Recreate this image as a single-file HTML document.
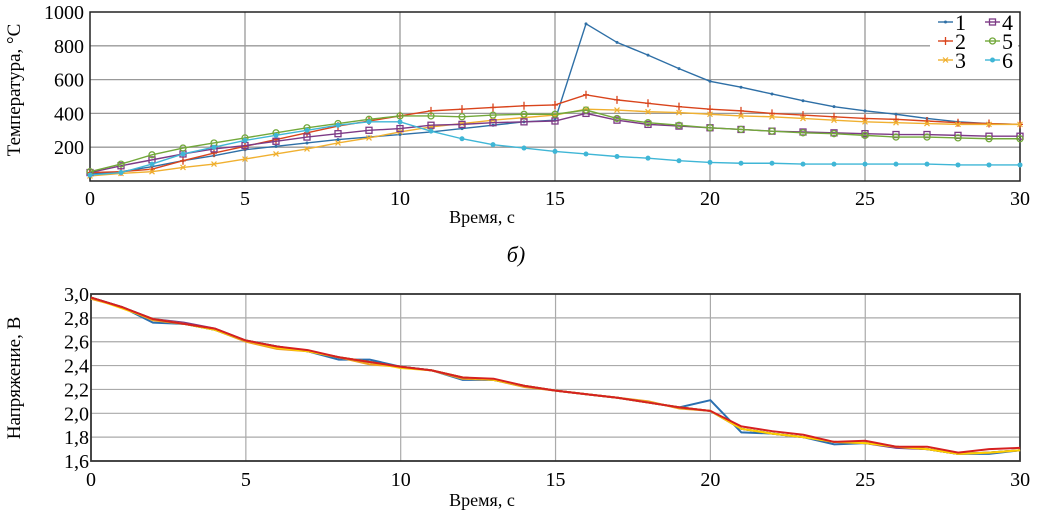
<!DOCTYPE html>
<html><head><meta charset="utf-8"><style>
html,body{margin:0;padding:0;background:#fff;}
svg{display:block;font-family:"Liberation Serif",serif;}
</style></head><body>
<svg id="s" width="1037" height="519" xmlns="http://www.w3.org/2000/svg"></svg>
<script>
const S=document.getElementById('s');
let h='';
const X=t=>90+t*31;
const TY=v=>181-v*0.169;
for(let v=200;v<=800;v+=200)h+=`<line x1="90" x2="1020" y1="${TY(v)}" y2="${TY(v)}" stroke="#999" stroke-width="1.3"/>`;
for(let t=5;t<30;t+=5)h+=`<line x1="${X(t)}" x2="${X(t)}" y1="12" y2="181" stroke="#999" stroke-width="1.3"/>`;
h+=`<rect x="90" y="12" width="930" height="169" fill="none" stroke="#222" stroke-width="1.5"/>`;
[[1000,'1000'],[800,'800'],[600,'600'],[400,'400'],[200,'200']].forEach(([v,l])=>h+=`<text x="84" y="${TY(v)+7}" font-size="20" text-anchor="end">${l}</text>`);
[0,5,10,15,20,25,30].forEach(t=>h+=`<text x="${X(t)}" y="205" font-size="20" text-anchor="middle">${t}</text>`);
h+=`<text x="482" y="223" font-size="18" text-anchor="middle">Время, с</text>`;
h+=`<text transform="translate(20,90) rotate(-90)" font-size="19" text-anchor="middle">Температура, °С</text>`;
h+=`<text x="516" y="262" font-size="22" font-style="italic" text-anchor="middle">б)</text>`;
const D=[
['#2e6fa6',[40,55,85,120,150,185,205,225,245,260,275,290,310,330,350,360,930,820,745,665,590,555,515,475,440,415,395,370,350,340,335],'dot'],
['#d9441c',[50,55,70,120,165,205,245,285,325,355,385,415,425,435,445,450,510,480,460,440,425,415,400,390,380,370,365,355,345,340,335],'plus'],
['#f0b030',[30,45,55,80,100,130,160,190,225,255,290,320,340,360,375,390,425,420,410,405,395,385,380,370,360,350,345,340,335,335,335],'x'],
['#7d3a86',[50,90,125,160,190,210,235,260,280,300,310,330,335,345,350,355,400,360,335,325,315,305,295,290,285,280,275,275,270,265,265],'sq'],
['#72a83a',[55,100,155,195,225,255,285,315,340,365,385,385,380,390,395,395,420,370,345,330,315,305,295,285,280,270,260,260,255,250,250],'circ'],
['#3fb6d6',[35,50,100,160,200,240,270,300,330,350,350,295,250,215,195,175,160,145,135,120,110,105,105,100,100,100,100,100,95,95,95],'star']];
function mk(c,m,x,y){
 if(m=='dot')return `<circle cx="${x}" cy="${y}" r="1.5" fill="${c}"/>`;
 if(m=='plus')return `<path d="M${x-3},${y}h6M${x},${y-4}v8" stroke="${c}" stroke-width="1.3"/>`;
 if(m=='x')return `<path d="M${x-2.5},${y-2.5}l5,5M${x+2.5},${y-2.5}l-5,5" stroke="${c}" stroke-width="1.2"/>`;
 if(m=='sq')return `<rect x="${x-3}" y="${y-3}" width="6" height="6" fill="none" stroke="${c}" stroke-width="1.3"/>`;
 if(m=='circ')return `<circle cx="${x}" cy="${y}" r="3" fill="none" stroke="${c}" stroke-width="1.3"/>`;
 return `<circle cx="${x}" cy="${y}" r="2.5" fill="${c}"/>`;
}
D.forEach(([c,v,m])=>{
 h+=`<polyline fill="none" stroke="${c}" stroke-width="1.4" points="${v.map((y,i)=>X(i)+','+TY(y)).join(' ')}"/>`;
 v.forEach((y,i)=>h+=mk(c,m,X(i),TY(y)));
});
h+=`<rect x="930" y="13" width="88" height="58" fill="#fff"/>`;
const L=[[1,0,938,22],[2,1,938,41],[3,2,938,60],[4,3,985,22],[5,4,985,41],[6,5,985,60]];
L.forEach(([n,i,x,y])=>{const c=D[i][0];h+=`<line x1="${x}" x2="${x+15}" y1="${y}" y2="${y}" stroke="${c}" stroke-width="1.4"/>`+mk(c,D[i][2],x+7.5,y)+`<text x="${x+17}" y="${y+8}" font-size="22">${n}</text>`;});
const BY=v=>294+(3.0-v)*119.3;
for(let v=1.8;v<2.95;v+=0.2)h+=`<line x1="91" x2="1020" y1="${BY(v)}" y2="${BY(v)}" stroke="#aaa" stroke-width="1.2"/>`;
for(let t=5;t<30;t+=5)h+=`<line x1="${91+t*30.97}" x2="${91+t*30.97}" y1="294" y2="461" stroke="#aaa" stroke-width="1.2"/>`;
h+=`<rect x="91" y="294" width="929" height="167" fill="none" stroke="#333" stroke-width="1.8"/>`;
['3,0','2,8','2,6','2,4','2,2','2,0','1,8','1,6'].forEach((l,i)=>h+=`<text x="89" y="${BY(3-i*0.2)+7}" font-size="20" text-anchor="end">${l}</text>`);
[0,5,10,15,20,25,30].forEach(t=>h+=`<text x="${91+t*30.97}" y="486" font-size="20" text-anchor="middle">${t}</text>`);
h+=`<text x="482" y="506" font-size="18" text-anchor="middle">Время, с</text>`;
h+=`<text transform="translate(20,378) rotate(-90)" font-size="19" text-anchor="middle">Напряжение, В</text>`;
const base=[2.97,2.89,2.79,2.75,2.70,2.61,2.56,2.52,2.47,2.43,2.39,2.36,2.30,2.28,2.23,2.19,2.16,2.13,2.09,2.05,2.02,1.87,1.83,1.80,1.76,1.75,1.72,1.70,1.66,1.67,1.69];
const V=[['#2a6fb0',{2:-0.03,8:-0.02,9:0.02,12:-0.02,20:0.09,21:-0.03,24:-0.02,29:-0.01}],
['#f0a020',{0:-0.01,2:-0.01,5:-0.01,6:-0.02,9:-0.02,12:-0.01,14:-0.01,18:0.01,19:-0.01}],
['#3a9a40',{}],['#7d3a86',{3:0.01,4:0.01,26:-0.01}],['#ffd000',{1:-0.01,6:-0.01,10:-0.01}],
['#d62020',{4:0.01,7:0.01,13:0.01,21:0.02,22:0.02,23:0.02,25:0.02,27:0.02,28:0.01,29:0.03,30:0.02}]];
V.forEach(([c,d])=>{h+=`<polyline fill="none" stroke="${c}" stroke-width="2" points="${base.map((v,i)=>(91+i*30.97)+','+BY(v+(d[i]||0))).join(' ')}"/>`;});
S.innerHTML=h;
</script>
</body></html>
